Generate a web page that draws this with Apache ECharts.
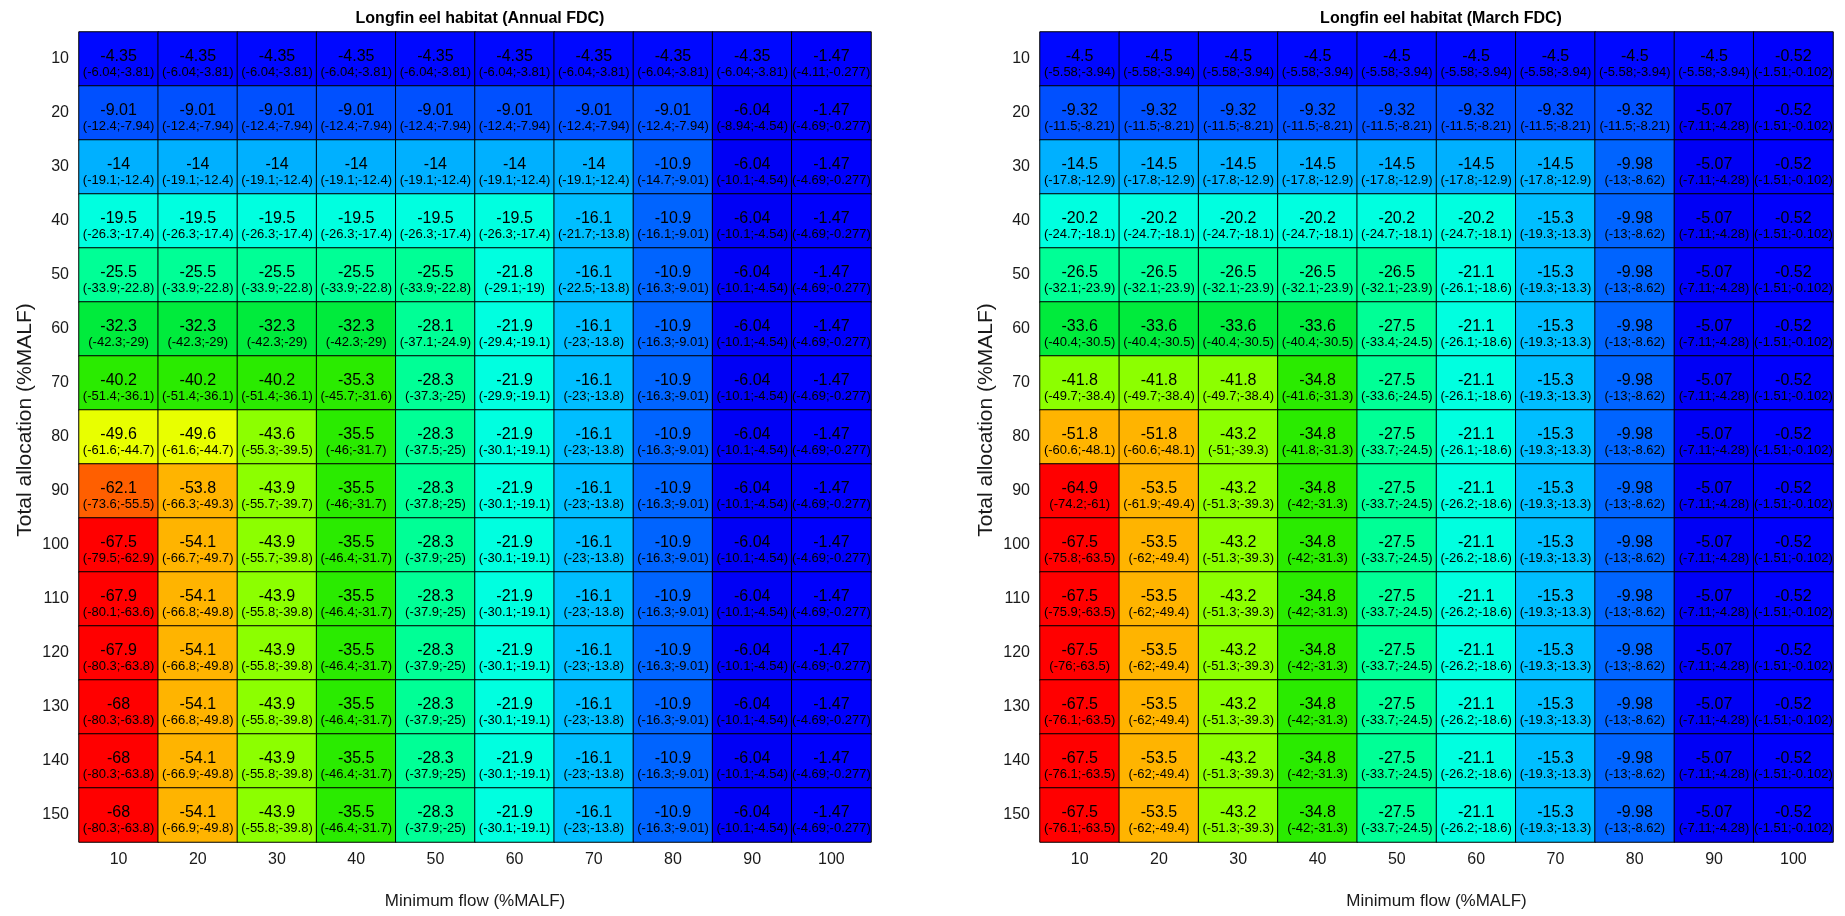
<!DOCTYPE html>
<html>
<head>
<meta charset="utf-8">
<script src="https://cdn.jsdelivr.net/npm/echarts@6/dist/echarts.min.js"></script>
<style>
  html, body { margin: 0; padding: 0; background: #fff; }
  #chart { width: 1845px; height: 916px; }
</style>
</head>
<body>
<div id="chart"></div>
<script>
// Axis categories
const minFlow = ['10', '20', '30', '40', '50', '60', '70', '80', '90', '100'];
const allocation = ['10', '20', '30', '40', '50', '60', '70', '80', '90', '100', '110', '120', '130', '140', '150'];

// Annual FDC: median change and (low;high) bounds, rows = total allocation, columns = minimum flow
const annualValue = [
  [-4.35, -4.35, -4.35, -4.35, -4.35, -4.35, -4.35, -4.35, -4.35, -1.47],
  [-9.01, -9.01, -9.01, -9.01, -9.01, -9.01, -9.01, -9.01, -6.04, -1.47],
  [-14, -14, -14, -14, -14, -14, -14, -10.9, -6.04, -1.47],
  [-19.5, -19.5, -19.5, -19.5, -19.5, -19.5, -16.1, -10.9, -6.04, -1.47],
  [-25.5, -25.5, -25.5, -25.5, -25.5, -21.8, -16.1, -10.9, -6.04, -1.47],
  [-32.3, -32.3, -32.3, -32.3, -28.1, -21.9, -16.1, -10.9, -6.04, -1.47],
  [-40.2, -40.2, -40.2, -35.3, -28.3, -21.9, -16.1, -10.9, -6.04, -1.47],
  [-49.6, -49.6, -43.6, -35.5, -28.3, -21.9, -16.1, -10.9, -6.04, -1.47],
  [-62.1, -53.8, -43.9, -35.5, -28.3, -21.9, -16.1, -10.9, -6.04, -1.47],
  [-67.5, -54.1, -43.9, -35.5, -28.3, -21.9, -16.1, -10.9, -6.04, -1.47],
  [-67.9, -54.1, -43.9, -35.5, -28.3, -21.9, -16.1, -10.9, -6.04, -1.47],
  [-67.9, -54.1, -43.9, -35.5, -28.3, -21.9, -16.1, -10.9, -6.04, -1.47],
  [-68, -54.1, -43.9, -35.5, -28.3, -21.9, -16.1, -10.9, -6.04, -1.47],
  [-68, -54.1, -43.9, -35.5, -28.3, -21.9, -16.1, -10.9, -6.04, -1.47],
  [-68, -54.1, -43.9, -35.5, -28.3, -21.9, -16.1, -10.9, -6.04, -1.47]
];
const annualLow = [
  [-6.04, -6.04, -6.04, -6.04, -6.04, -6.04, -6.04, -6.04, -6.04, -4.11],
  [-12.4, -12.4, -12.4, -12.4, -12.4, -12.4, -12.4, -12.4, -8.94, -4.69],
  [-19.1, -19.1, -19.1, -19.1, -19.1, -19.1, -19.1, -14.7, -10.1, -4.69],
  [-26.3, -26.3, -26.3, -26.3, -26.3, -26.3, -21.7, -16.1, -10.1, -4.69],
  [-33.9, -33.9, -33.9, -33.9, -33.9, -29.1, -22.5, -16.3, -10.1, -4.69],
  [-42.3, -42.3, -42.3, -42.3, -37.1, -29.4, -23, -16.3, -10.1, -4.69],
  [-51.4, -51.4, -51.4, -45.7, -37.3, -29.9, -23, -16.3, -10.1, -4.69],
  [-61.6, -61.6, -55.3, -46, -37.5, -30.1, -23, -16.3, -10.1, -4.69],
  [-73.6, -66.3, -55.7, -46, -37.8, -30.1, -23, -16.3, -10.1, -4.69],
  [-79.5, -66.7, -55.7, -46.4, -37.9, -30.1, -23, -16.3, -10.1, -4.69],
  [-80.1, -66.8, -55.8, -46.4, -37.9, -30.1, -23, -16.3, -10.1, -4.69],
  [-80.3, -66.8, -55.8, -46.4, -37.9, -30.1, -23, -16.3, -10.1, -4.69],
  [-80.3, -66.8, -55.8, -46.4, -37.9, -30.1, -23, -16.3, -10.1, -4.69],
  [-80.3, -66.9, -55.8, -46.4, -37.9, -30.1, -23, -16.3, -10.1, -4.69],
  [-80.3, -66.9, -55.8, -46.4, -37.9, -30.1, -23, -16.3, -10.1, -4.69]
];
const annualHigh = [
  [-3.81, -3.81, -3.81, -3.81, -3.81, -3.81, -3.81, -3.81, -3.81, -0.277],
  [-7.94, -7.94, -7.94, -7.94, -7.94, -7.94, -7.94, -7.94, -4.54, -0.277],
  [-12.4, -12.4, -12.4, -12.4, -12.4, -12.4, -12.4, -9.01, -4.54, -0.277],
  [-17.4, -17.4, -17.4, -17.4, -17.4, -17.4, -13.8, -9.01, -4.54, -0.277],
  [-22.8, -22.8, -22.8, -22.8, -22.8, -19, -13.8, -9.01, -4.54, -0.277],
  [-29, -29, -29, -29, -24.9, -19.1, -13.8, -9.01, -4.54, -0.277],
  [-36.1, -36.1, -36.1, -31.6, -25, -19.1, -13.8, -9.01, -4.54, -0.277],
  [-44.7, -44.7, -39.5, -31.7, -25, -19.1, -13.8, -9.01, -4.54, -0.277],
  [-55.5, -49.3, -39.7, -31.7, -25, -19.1, -13.8, -9.01, -4.54, -0.277],
  [-62.9, -49.7, -39.8, -31.7, -25, -19.1, -13.8, -9.01, -4.54, -0.277],
  [-63.6, -49.8, -39.8, -31.7, -25, -19.1, -13.8, -9.01, -4.54, -0.277],
  [-63.8, -49.8, -39.8, -31.7, -25, -19.1, -13.8, -9.01, -4.54, -0.277],
  [-63.8, -49.8, -39.8, -31.7, -25, -19.1, -13.8, -9.01, -4.54, -0.277],
  [-63.8, -49.8, -39.8, -31.7, -25, -19.1, -13.8, -9.01, -4.54, -0.277],
  [-63.8, -49.8, -39.8, -31.7, -25, -19.1, -13.8, -9.01, -4.54, -0.277]
];

// March FDC
const marchValue = [
  [-4.5, -4.5, -4.5, -4.5, -4.5, -4.5, -4.5, -4.5, -4.5, -0.52],
  [-9.32, -9.32, -9.32, -9.32, -9.32, -9.32, -9.32, -9.32, -5.07, -0.52],
  [-14.5, -14.5, -14.5, -14.5, -14.5, -14.5, -14.5, -9.98, -5.07, -0.52],
  [-20.2, -20.2, -20.2, -20.2, -20.2, -20.2, -15.3, -9.98, -5.07, -0.52],
  [-26.5, -26.5, -26.5, -26.5, -26.5, -21.1, -15.3, -9.98, -5.07, -0.52],
  [-33.6, -33.6, -33.6, -33.6, -27.5, -21.1, -15.3, -9.98, -5.07, -0.52],
  [-41.8, -41.8, -41.8, -34.8, -27.5, -21.1, -15.3, -9.98, -5.07, -0.52],
  [-51.8, -51.8, -43.2, -34.8, -27.5, -21.1, -15.3, -9.98, -5.07, -0.52],
  [-64.9, -53.5, -43.2, -34.8, -27.5, -21.1, -15.3, -9.98, -5.07, -0.52],
  [-67.5, -53.5, -43.2, -34.8, -27.5, -21.1, -15.3, -9.98, -5.07, -0.52],
  [-67.5, -53.5, -43.2, -34.8, -27.5, -21.1, -15.3, -9.98, -5.07, -0.52],
  [-67.5, -53.5, -43.2, -34.8, -27.5, -21.1, -15.3, -9.98, -5.07, -0.52],
  [-67.5, -53.5, -43.2, -34.8, -27.5, -21.1, -15.3, -9.98, -5.07, -0.52],
  [-67.5, -53.5, -43.2, -34.8, -27.5, -21.1, -15.3, -9.98, -5.07, -0.52],
  [-67.5, -53.5, -43.2, -34.8, -27.5, -21.1, -15.3, -9.98, -5.07, -0.52]
];
const marchLow = [
  [-5.58, -5.58, -5.58, -5.58, -5.58, -5.58, -5.58, -5.58, -5.58, -1.51],
  [-11.5, -11.5, -11.5, -11.5, -11.5, -11.5, -11.5, -11.5, -7.11, -1.51],
  [-17.8, -17.8, -17.8, -17.8, -17.8, -17.8, -17.8, -13, -7.11, -1.51],
  [-24.7, -24.7, -24.7, -24.7, -24.7, -24.7, -19.3, -13, -7.11, -1.51],
  [-32.1, -32.1, -32.1, -32.1, -32.1, -26.1, -19.3, -13, -7.11, -1.51],
  [-40.4, -40.4, -40.4, -40.4, -33.4, -26.1, -19.3, -13, -7.11, -1.51],
  [-49.7, -49.7, -49.7, -41.6, -33.6, -26.1, -19.3, -13, -7.11, -1.51],
  [-60.6, -60.6, -51, -41.8, -33.7, -26.1, -19.3, -13, -7.11, -1.51],
  [-74.2, -61.9, -51.3, -42, -33.7, -26.2, -19.3, -13, -7.11, -1.51],
  [-75.8, -62, -51.3, -42, -33.7, -26.2, -19.3, -13, -7.11, -1.51],
  [-75.9, -62, -51.3, -42, -33.7, -26.2, -19.3, -13, -7.11, -1.51],
  [-76, -62, -51.3, -42, -33.7, -26.2, -19.3, -13, -7.11, -1.51],
  [-76.1, -62, -51.3, -42, -33.7, -26.2, -19.3, -13, -7.11, -1.51],
  [-76.1, -62, -51.3, -42, -33.7, -26.2, -19.3, -13, -7.11, -1.51],
  [-76.1, -62, -51.3, -42, -33.7, -26.2, -19.3, -13, -7.11, -1.51]
];
const marchHigh = [
  [-3.94, -3.94, -3.94, -3.94, -3.94, -3.94, -3.94, -3.94, -3.94, -0.102],
  [-8.21, -8.21, -8.21, -8.21, -8.21, -8.21, -8.21, -8.21, -4.28, -0.102],
  [-12.9, -12.9, -12.9, -12.9, -12.9, -12.9, -12.9, -8.62, -4.28, -0.102],
  [-18.1, -18.1, -18.1, -18.1, -18.1, -18.1, -13.3, -8.62, -4.28, -0.102],
  [-23.9, -23.9, -23.9, -23.9, -23.9, -18.6, -13.3, -8.62, -4.28, -0.102],
  [-30.5, -30.5, -30.5, -30.5, -24.5, -18.6, -13.3, -8.62, -4.28, -0.102],
  [-38.4, -38.4, -38.4, -31.3, -24.5, -18.6, -13.3, -8.62, -4.28, -0.102],
  [-48.1, -48.1, -39.3, -31.3, -24.5, -18.6, -13.3, -8.62, -4.28, -0.102],
  [-61, -49.4, -39.3, -31.3, -24.5, -18.6, -13.3, -8.62, -4.28, -0.102],
  [-63.5, -49.4, -39.3, -31.3, -24.5, -18.6, -13.3, -8.62, -4.28, -0.102],
  [-63.5, -49.4, -39.3, -31.3, -24.5, -18.6, -13.3, -8.62, -4.28, -0.102],
  [-63.5, -49.4, -39.3, -31.3, -24.5, -18.6, -13.3, -8.62, -4.28, -0.102],
  [-63.5, -49.4, -39.3, -31.3, -24.5, -18.6, -13.3, -8.62, -4.28, -0.102],
  [-63.5, -49.4, -39.3, -31.3, -24.5, -18.6, -13.3, -8.62, -4.28, -0.102],
  [-63.5, -49.4, -39.3, -31.3, -24.5, -18.6, -13.3, -8.62, -4.28, -0.102]
];

// Flatten a set of row-major tables into heatmap items [x, y, value, low, high]
function cells(values, lows, highs) {
  const out = [];
  values.forEach((row, r) => {
    row.forEach((v, c) => out.push([c, r, v, lows[r][c], highs[r][c]]));
  });
  return out;
}

const FONT = '"Liberation Sans", Arial, Helvetica, sans-serif';
const panels = [
  { title: 'Longfin eel habitat (Annual FDC)', grid: { left: 79, right: 974, top: 32, bottom: 74 }, center: 475,
    data: cells(annualValue, annualLow, annualHigh) },
  { title: 'Longfin eel habitat (March FDC)', grid: { left: 1040, right: 12, top: 32, bottom: 74 }, center: 1436,
    data: cells(marchValue, marchLow, marchHigh) }
];

const chart = echarts.init(document.getElementById('chart'), null, { renderer: 'canvas' });

chart.setOption({
  backgroundColor: '#ffffff',
  animation: false,
  textStyle: { fontFamily: FONT },
  title: panels.map(p => ({
    text: p.title,
    left: p.center,
    top: 6,
    textAlign: 'center',
    textStyle: { fontFamily: FONT, fontSize: 16, fontWeight: 'bold', color: '#000' }
  })),
  grid: panels.map(p => Object.assign({ containLabel: false }, p.grid)),
  xAxis: panels.map((p, i) => ({
    type: 'category',
    gridIndex: i,
    data: minFlow,
    name: 'Minimum flow (%MALF)',
    nameLocation: 'middle',
    nameGap: 51,
    nameTextStyle: { fontFamily: FONT, fontSize: 17, color: '#1a1a1a' },
    axisLine: { show: false },
    axisTick: { show: false },
    splitLine: { show: false },
    axisLabel: { fontFamily: FONT, fontSize: 16, color: '#1a1a1a', margin: 10, interval: 0 }
  })),
  yAxis: panels.map((p, i) => ({
    type: 'category',
    gridIndex: i,
    data: allocation,
    inverse: true,
    name: 'Total allocation (%MALF)',
    nameLocation: 'middle',
    nameGap: 43,
    nameTextStyle: { fontFamily: FONT, fontSize: 21, color: '#1a1a1a', padding: [0, 0, 0, 34] },
    axisLine: { show: false },
    axisTick: { show: false },
    splitLine: { show: false },
    axisLabel: { fontFamily: FONT, fontSize: 16, color: '#1a1a1a', margin: 10, interval: 0 }
  })),
  visualMap: {
    type: 'piecewise',
    show: false,
    dimension: 2,
    seriesIndex: [0, 1],
    pieces: [
      { lte: -63, color: '#ff0000' },
      { gt: -63, lte: -58, color: '#ff5f00' },
      { gt: -58, lte: -50.5, color: '#ffb400' },
      { gt: -50.5, lte: -45, color: '#e8ff00' },
      { gt: -45, lte: -41, color: '#8cff00' },
      { gt: -41, lte: -34, color: '#2aeb00' },
      { gt: -34, lte: -30, color: '#00eb3c' },
      { gt: -30, lte: -24, color: '#00ff96' },
      { gt: -24, lte: -18, color: '#00ffe0' },
      { gt: -18, lte: -15, color: '#00beff' },
      { gt: -15, lte: -13, color: '#00b0ff' },
      { gt: -13, lte: -9.5, color: '#0064ff' },
      { gt: -9.5, lte: -7, color: '#0050ff' },
      { gt: -7, lte: -5, color: '#0000f5' },
      { gt: -5, lte: -3, color: '#0008ff' },
      { gt: -3, color: '#0000fc' }
    ]
  },
  series: panels.map((p, i) => ({
    type: 'heatmap',
    xAxisIndex: i,
    yAxisIndex: i,
    data: p.data,
    itemStyle: { borderColor: '#000', borderWidth: 1 },
    emphasis: { disabled: true },
    label: {
      show: true,
      offset: [0, 5],
      formatter: q => '{v|' + q.data[2] + '}\n{r|(' + q.data[3] + ';' + q.data[4] + ')}',
      rich: {
        v: { fontFamily: FONT, fontSize: 16, lineHeight: 17, color: '#000' },
        r: { fontFamily: FONT, fontSize: 13, lineHeight: 15, color: '#000' }
      }
    }
  }))
});
</script>
</body>
</html>
